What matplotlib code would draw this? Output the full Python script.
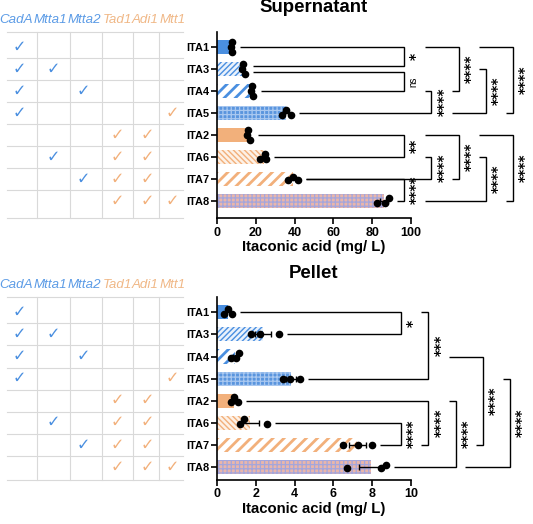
import numpy as np
import matplotlib
matplotlib.use("Agg")
import matplotlib.pyplot as plt

# ---------------- data ----------------
strains = ['ITA1', 'ITA3', 'ITA4', 'ITA5', 'ITA2', 'ITA6', 'ITA7', 'ITA8']
genes = ['CadA', 'Mtta1', 'Mtta2', 'Tad1', 'Adi1', 'Mtt1']
gene_group = ['blue', 'blue', 'blue', 'orange', 'orange', 'orange']
presence = [
    [1, 0, 0, 0, 0, 0],
    [1, 1, 0, 0, 0, 0],
    [1, 0, 1, 0, 0, 0],
    [1, 0, 0, 0, 0, 1],
    [0, 0, 0, 1, 1, 0],
    [0, 1, 0, 1, 1, 0],
    [0, 0, 1, 1, 1, 0],
    [0, 0, 0, 1, 1, 1],
]
sup_reps = [[7.2, 7.5, 7.8], [12.8, 13.2, 14.6], [17.4, 17.9, 18.6], [33.3, 35.4, 38.0],
            [15.4, 16.0, 16.8], [22.4, 24.6, 25.3], [36.6, 39.0, 41.8], [82.3, 86.8, 88.8]]
pel_reps = [[0.36, 0.58, 0.76], [1.77, 2.20, 3.18], [0.70, 0.97, 1.15], [3.40, 3.75, 4.27],
            [0.70, 0.87, 1.10], [1.20, 1.39, 2.58], [6.47, 7.28, 7.97], [6.68, 8.45, 8.69]]
sup_ticks = [0, 20, 40, 60, 80, 100]
pel_ticks = [0, 2, 4, 6, 8, 10]
# comparisons: (row a, row b, label)
sup_stats = [(0, 1, '*'), (1, 2, 'ns'), (2, 3, '****'), (0, 2, '****'), (1, 3, '****'), (0, 3, '****'),
             (4, 5, '**'), (5, 6, '****'), (6, 7, '****'), (4, 6, '****'), (5, 7, '****'), (4, 7, '****')]
pel_stats = [(0, 1, '*'), (0, 3, '***'), (2, 6, '****'), (5, 6, '****'), (4, 6, '****'),
             (4, 7, '****'), (3, 7, '****')]
titles = ['Supernatant', 'Pellet']
xlabel = 'Itaconic acid (mg/ L)'

# ---------------- layout / style ----------------
# bracket layout: (column level, top arm starts after level / None=data, bottom arm ...)
sup_layout = [(0, None, None), (0, None, None), (1, 0, None), (2, 0, 1), (3, 2, 1), (4, 2, 3),
              (0, None, None), (1, 0, None), (0, None, None), (2, 0, 1), (3, 2, 0), (4, 2, 3)]
pel_layout = [(0, None, None), (1, 0, None), (3, 1, 2), (0, None, None), (1, None, 0),
              (2, 1, None), (4, 3, 2)]

W, H, DPI = 533, 524, 100
PT = 72.0 / DPI
LEFT_PX = 217
AXIS_PX = 194
LEVEL_STEP = 27.3
BLUE = '#4a8fe0'
ORANGE = '#f2b07b'
HEAD_BLUE = '#5b9be6'
HEAD_ORANGE = '#f0b887'
GRID = '#d9d9d9'

bar_style = {
    'ITA1': dict(face=BLUE, hatch=None, hc=BLUE, hlw=1.0),
    'ITA3': dict(face='#eaf2fc', hatch='//////', hc=BLUE, hlw=1.0),
    'ITA4': dict(face='white', hatch='///', hc=BLUE, hlw=2.0),
    'ITA5': dict(face='#5a95de', hatch='++++', hc='#a9c8f0', hlw=0.9),
    'ITA2': dict(face=ORANGE, hatch=None, hc=ORANGE, hlw=1.0),
    'ITA6': dict(face='#fdf1e6', hatch='\\\\\\\\\\\\', hc=ORANGE, hlw=1.0),
    'ITA7': dict(face='white', hatch='///', hc=ORANGE, hlw=2.0),
    'ITA8': dict(face='#e9b6aa', hatch='++++', hc='#a4a6dc', hlw=0.9),
}

plt.rcParams['font.family'] = ['Liberation Sans', 'DejaVu Sans']
plt.rcParams['hatch.linewidth'] = 1.0

fig = plt.figure(figsize=(W / DPI, H / DPI), dpi=DPI)


def rect(left, top, right, bottom):
    return [left / W, 1 - bottom / H, (right - left) / W, (bottom - top) / H]


def swarm(vals, ppu, ppr, d=5.0):
    order = np.argsort(vals)
    placed = []
    offs = np.zeros(len(vals))
    step = d / 2.0
    for i in order:
        x = vals[i] * ppu
        for c in [0, -1, 1, -2, 2, -3, 3]:
            y = c * step
            if all(np.hypot(x - px, y - py) >= d - 1e-6 for px, py in placed):
                break
        placed.append((x, y))
        offs[i] = y
    offs -= offs.mean()
    return offs / ppr


def panel(top_px, bot_px, row0_px, row_step_px, reps, stats, layout, ticks, title, L0px):
    n = len(strains)
    ylim = ((bot_px - row0_px) / row_step_px, -(row0_px - top_px) / row_step_px)
    ax = fig.add_axes(rect(LEFT_PX, top_px, W, bot_px))
    tab = fig.add_axes(rect(0, top_px, LEFT_PX, bot_px))
    ppu = AXIS_PX / ticks[-1]
    ppr = row_step_px
    ax.set_xlim(0, (W - LEFT_PX) / ppu)
    ax.set_ylim(*ylim)
    for s in ['top', 'right']:
        ax.spines[s].set_visible(False)
    for s in ['left', 'bottom']:
        ax.spines[s].set_linewidth(1.2)
    ax.spines['bottom'].set_bounds(0, ticks[-1])
    ax.set_xticks(ticks)
    ax.set_xticklabels([str(t) for t in ticks], fontweight='bold', fontsize=9)
    ax.set_yticks(range(n))
    ax.set_yticklabels(strains, fontweight='bold', fontsize=7.9)
    ax.tick_params(axis='both', length=4, width=1.2)
    ax.tick_params(axis='y', pad=1.5)
    ax.tick_params(axis='x', pad=2)
    ax.patch.set_alpha(0)

    means = [float(np.mean(r)) for r in reps]
    sems = [float(np.std(r, ddof=1) / np.sqrt(len(r))) for r in reps]
    for r, name in enumerate(strains):
        st = bar_style[name]
        b = ax.barh(r, means[r], height=0.64, color=st['face'], edgecolor=st['hc'],
                    hatch=st['hatch'], linewidth=0, zorder=2)[0]
        if hasattr(b, 'set_hatch_linewidth'):
            b.set_hatch_linewidth(st['hlw'])
        ax.errorbar(means[r], r, xerr=sems[r], fmt='none', ecolor='black', elinewidth=1.0,
                    capsize=2.5, capthick=1.0, zorder=3)
        offs = swarm(np.array(reps[r]), ppu, ppr)
        ax.plot(reps[r], r + offs, 'o', color='black', ms=5.5, mew=0, zorder=4, clip_on=False)

    # significance brackets
    level_x = [(L0px + k * LEVEL_STEP) / ppu for k in range(6)]
    data_start = [max(max(reps[r]), means[r] + sems[r]) + 8.0 / ppu for r in range(n)]
    label_xmax = (W - LEFT_PX - 8.5) / ppu

    def half(lbl):
        return (len(lbl) * 7.0 / 2 + 2) / ppr

    def arm_start(row, spec):
        if spec is None:
            return data_start[row]
        big = False
        for (a, b2, lbl), (lv, _, _) in zip(stats, layout):
            if lv == spec and abs((a + b2) / 2 - row) < half(lbl) + 9.0 / ppr:
                big = True
        return level_x[spec] + (20.5 if big else 9.0) / ppu

    delta = 0.12
    for k, ((a, b2, lbl), (lv, tf, bf)) in enumerate(zip(stats, layout)):
        ya, yb = float(a), float(b2)
        if tf is None:
            for m, ((a2, bb2, _), (lv2, tf2, bf2)) in enumerate(zip(stats, layout)):
                if m != k and lv2 == lv and bb2 == a and bf2 is None:
                    ya = a + delta
        if bf is None:
            for m, ((a2, bb2, _), (lv2, tf2, bf2)) in enumerate(zip(stats, layout)):
                if m != k and lv2 == lv and a2 == b2 and tf2 is None:
                    yb = b2 - delta
        L = level_x[lv]
        xs = [arm_start(a, tf), L, L, arm_start(b2, bf)]
        ys = [ya, ya, yb, yb]
        ax.plot(xs, ys, color='black', lw=1.0, clip_on=False, zorder=1,
                solid_joinstyle='miter', solid_capstyle='butt')
        if lbl == 'ns':
            ax.text(L + 9.0 / ppu, (ya + yb) / 2, lbl, rotation=90, ha='center', va='center',
                    fontsize=7, clip_on=False)
        else:
            ax.text(min(L + 12.0 / ppu, label_xmax), (ya + yb) / 2, lbl, rotation=90,
                    ha='center', va='center', fontsize=10, fontweight='bold',
                    family='DejaVu Sans', clip_on=False)

    ax.annotate(title, xy=(ticks[-1] / 2, 1), xycoords=('data', 'axes fraction'),
                xytext=(0, 24 * PT), textcoords='offset points', ha='center', va='center',
                fontsize=13.4, fontweight='bold', annotation_clip=False)
    ax.annotate(xlabel, xy=(ticks[-1] / 2, 0), xycoords=('data', 'axes fraction'),
                xytext=(0, -29 * PT), textcoords='offset points', ha='center', va='center',
                fontsize=10.7, fontweight='bold', annotation_clip=False)

    # gene table
    tab.set_xlim(0, LEFT_PX)
    tab.set_ylim(*ylim)
    tab.axis('off')
    ybot, ytop = ylim
    hlines = [ytop] + [r + 0.5 for r in range(n - 1)] + [ybot]
    for y in hlines:
        tab.plot([7, 182.5], [y, y], color=GRID, lw=0.8, clip_on=False)
    for x in [37, 69.5, 101.5, 132.5, 159]:
        tab.plot([x, x], [ytop, ybot], color=GRID, lw=0.8, clip_on=False)
    head_x = [16.5, 50.5, 84, 117, 145, 172.5]
    check_x = [19, 53, 83.5, 117.5, 147, 172.5]
    for g, grp, x in zip(genes, gene_group, head_x):
        tab.text(x, ytop - 12.0 / ppr, g, ha='center', va='center', fontsize=9.6,
                 style='italic', color=HEAD_BLUE if grp == 'blue' else HEAD_ORANGE,
                 clip_on=False)
    for r, rowv in enumerate(presence):
        for c, v in enumerate(rowv):
            if v:
                blue = gene_group[c] == 'blue'
                tab.text(check_x[c], r, '\u2713', ha='center', va='center', fontsize=11.5,
                         family='DejaVu Sans', fontweight='bold' if blue else 'normal',
                         color=BLUE if blue else ORANGE)


panel(32, 218.3, 47, 22.0, sup_reps, sup_stats, sup_layout, sup_ticks, titles[0], 187)
panel(297, 479.5, 312.3, 22.1, pel_reps, pel_stats, pel_layout, pel_ticks, titles[1], 184)

fig.savefig('out.png', dpi=DPI)
